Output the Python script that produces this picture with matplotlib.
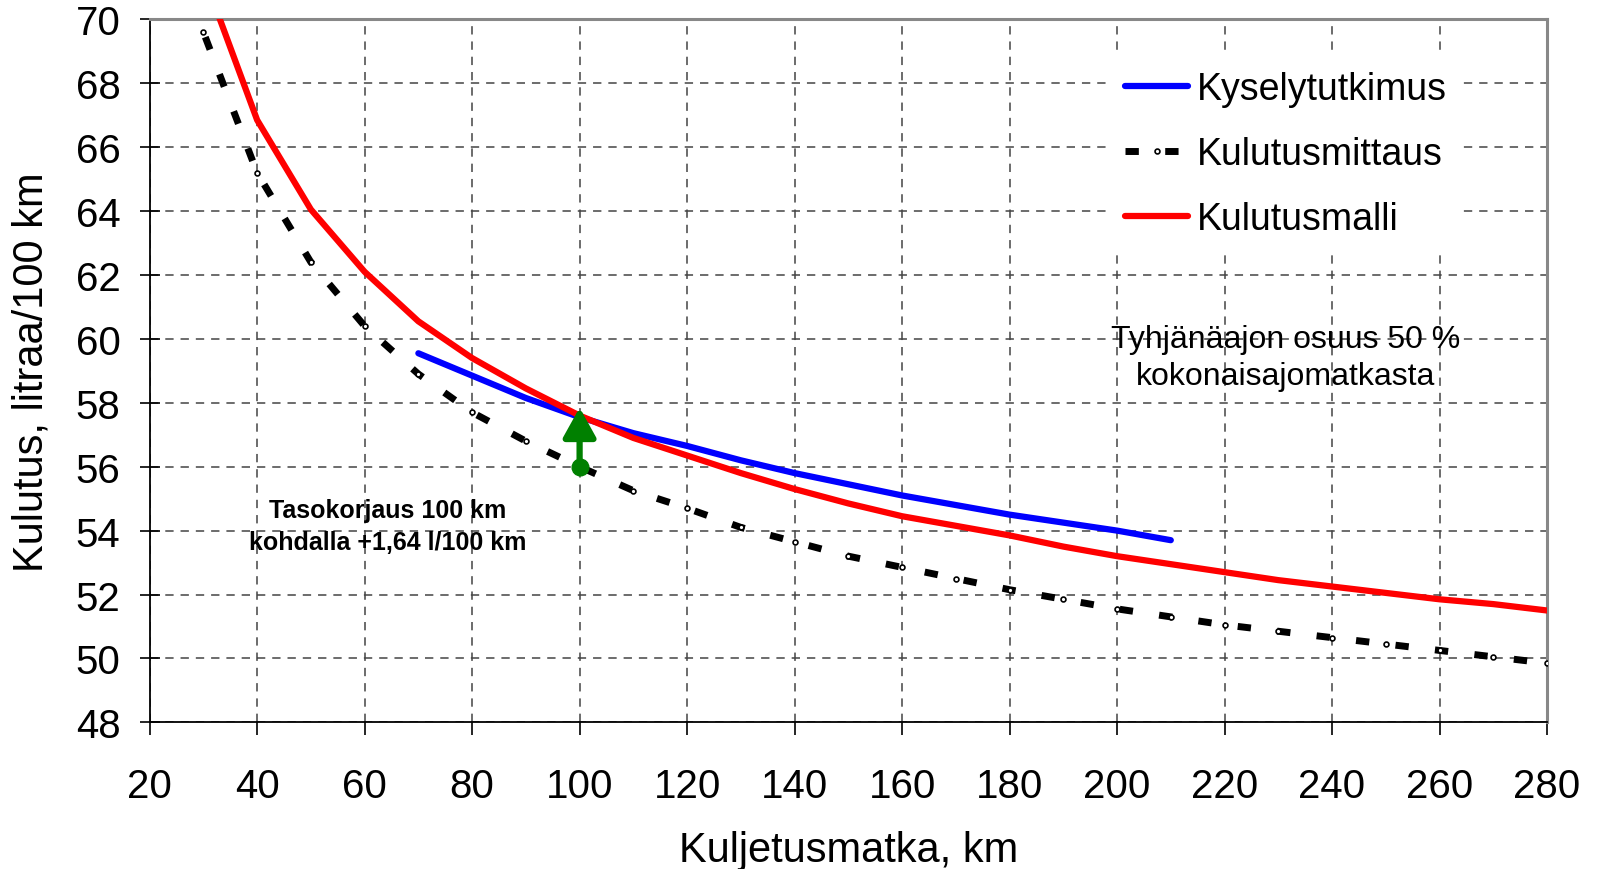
import matplotlib.pyplot as plt
import numpy as np

plt.rcParams['font.family'] = ['Liberation Sans', 'DejaVu Sans']
plt.rcParams['lines.scale_dashes'] = False

# Kulutusmalli (red)
malli_x = [30, 40, 50, 60, 70, 80, 90, 100, 110, 120, 130, 140, 150, 160, 170,
           180, 190, 200, 210, 220, 230, 240, 250, 260, 270, 280]
malli_y = [71.4, 66.85, 64.05, 62.1, 60.55, 59.4, 58.45, 57.6, 56.9, 56.35, 55.8,
           55.3, 54.85, 54.45, 54.15, 53.85, 53.5, 53.2, 52.95, 52.7, 52.45,
           52.25, 52.05, 51.85, 51.7, 51.5]

# Kyselytutkimus (blue)
kysely_x = [70, 80, 90, 100, 110, 120, 130, 140, 150, 160, 170, 180, 190, 200, 210]
kysely_y = [59.55, 58.85, 58.15, 57.55, 57.05, 56.65, 56.2, 55.8, 55.45, 55.1,
            54.8, 54.5, 54.25, 54.0, 53.7]

# Kulutusmittaus (black dashed, small hollow markers)
mittaus_x = [25, 30, 40, 50, 60, 70, 80, 90, 100, 110, 120, 130, 140, 150, 160,
             170, 180, 190, 200, 210, 220, 230, 240, 250, 260, 270, 280]
mittaus_y = [72.6, 69.6, 65.2, 62.4, 60.4, 58.9, 57.7, 56.8, 56.0, 55.25, 54.7,
             54.1, 53.65, 53.2, 52.85, 52.5, 52.15, 51.85, 51.55, 51.3, 51.05,
             50.85, 50.65, 50.45, 50.25, 50.05, 49.85]

korjaus_x = 100
korjaus_from = 56.0
korjaus_to = 57.85

fig = plt.figure(figsize=(15.97, 8.70), dpi=100)
ax = fig.add_axes([0.0937, 0.1686, 0.875, 0.808])

ax.plot(kysely_x, kysely_y, color='#0000ff', lw=4.5, solid_capstyle='round',
        label='Kyselytutkimus', zorder=4)
ax.plot(mittaus_x, mittaus_y, color='black', lw=5, linestyle=(0, (9.6, 19)),
        marker='o', ms=3.5, mfc='white', mec='black', mew=1.2,
        label='Kulutusmittaus', zorder=3)
ax.plot(malli_x, malli_y, color='#ff0000', lw=4.5, solid_capstyle='round',
        label='Kulutusmalli', zorder=5)

# level correction arrow
ax.plot([korjaus_x], [korjaus_from], 'o', color='#008000', ms=12, zorder=6)
ax.annotate('', xy=(korjaus_x, korjaus_to), xytext=(korjaus_x, korjaus_from),
            arrowprops=dict(arrowstyle='-|>,head_width=0.5,head_length=0.9',
                            mutation_scale=20, color='#008000', lw=4.5,
                            shrinkA=0, shrinkB=0),
            zorder=7)

ax.text(64.3, 54.14, 'Tasokorjaus 100 km\nkohdalla +1,64 l/100 km', ha='center',
        va='center', fontsize=18, fontweight='bold', linespacing=1.4)
ax.text(231.3, 59.41, 'Tyhjänäajon osuus 50 %\nkokonaisajomatkasta', ha='center',
        va='center', fontsize=23, linespacing=1.3)

ax.set_xlim(20, 280)
ax.set_ylim(48, 70)
ax.set_xticks(np.arange(20, 281, 20))
ax.set_yticks(np.arange(48, 71, 2))
ax.tick_params(labelsize=29, width=1.2)
ax.tick_params(axis='x', direction='out', length=9.5, pad=23)
ax.tick_params(axis='y', direction='inout', length=14, pad=14)
ax.grid(True, linestyle=(0, (6, 5)), color='#444444', lw=1.1)

for side in ['top', 'right']:
    ax.spines[side].set_color('#888888')
    ax.spines[side].set_linewidth(2.2)
ax.spines['left'].set_linewidth(1.3)
ax.spines['bottom'].set_linewidth(1.3)

ax.set_xlabel('Kuljetusmatka, km', fontsize=30, labelpad=18)
ax.set_ylabel('Kulutus, litraa/100 km', fontsize=30, labelpad=17)

ax.legend(loc='upper left', bbox_to_anchor=(0.674, 0.974), fontsize=27,
          frameon=True, framealpha=1, edgecolor='none', fancybox=False,
          handlelength=1.67, handletextpad=0.25, labelspacing=0.77, borderpad=0.4)

fig.savefig('out.png', dpi=100)
